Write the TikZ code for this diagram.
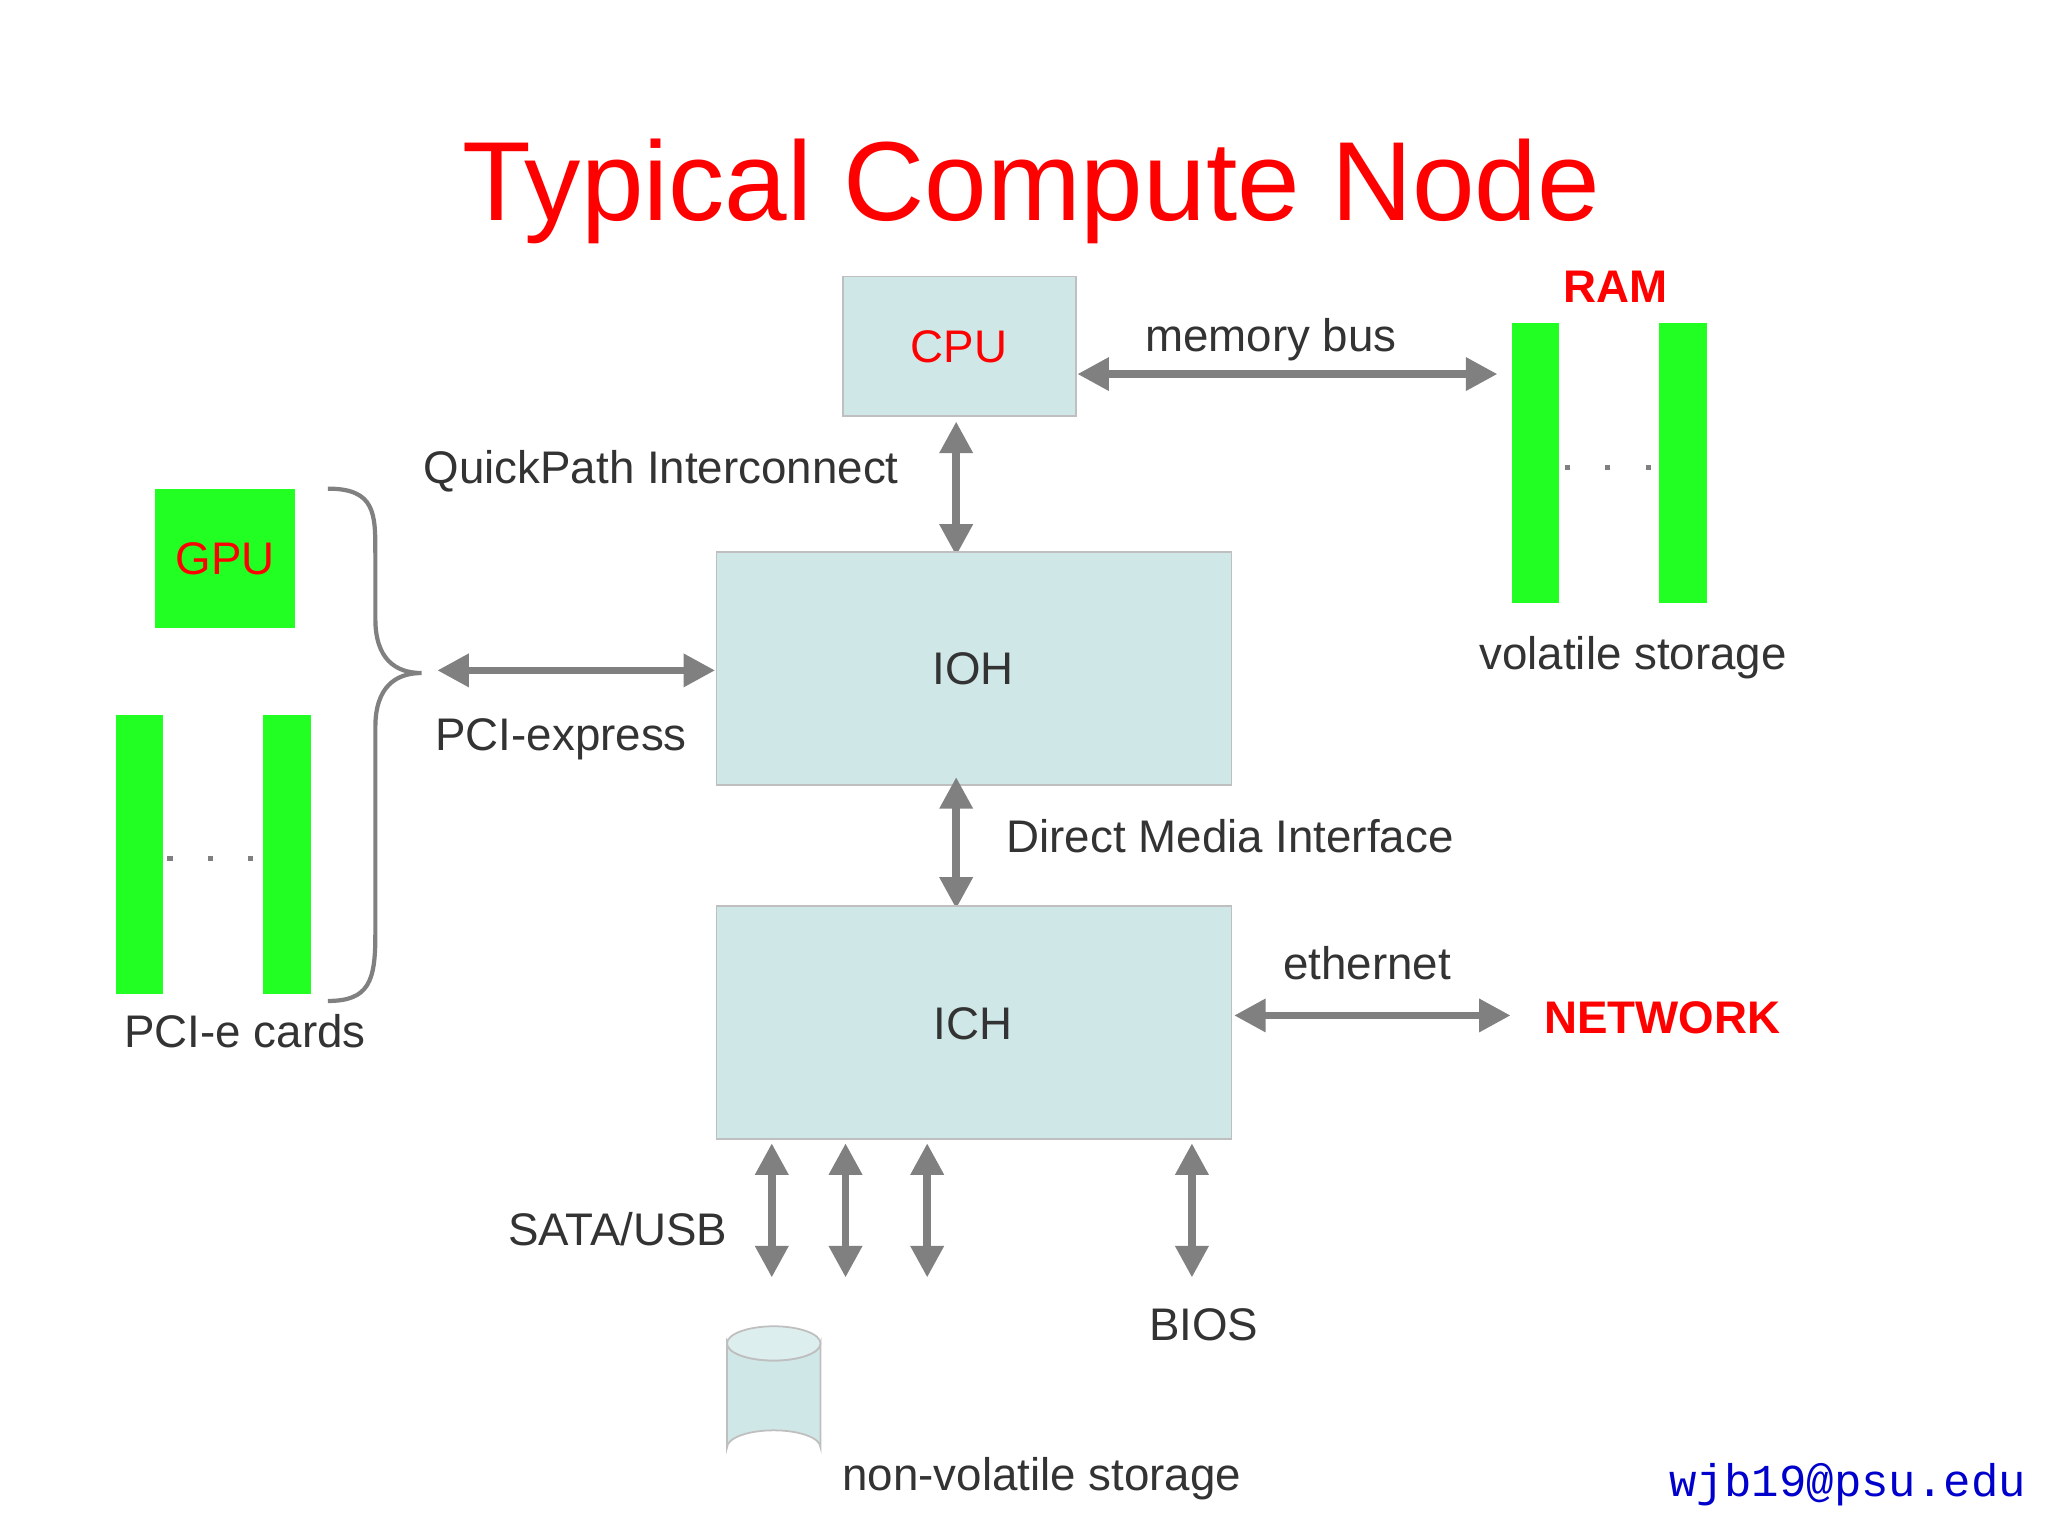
\documentclass[tikz,border=0pt]{standalone}
\usepackage{fontspec}
\setmainfont{Liberation Sans}
\newfontfamily\monof{Liberation Mono}
\usetikzlibrary{arrows.meta,shapes.geometric}
\definecolor{boxfill}{HTML}{CFE7E7}
\definecolor{green1}{HTML}{22FF22}
\definecolor{txt}{HTML}{333333}
\definecolor{arr}{HTML}{808080}
\begin{document}
\begin{tikzpicture}[x=0.01317cm,y=-0.01317cm,
  box/.style={draw=black!25,fill=boxfill,line width=0.5pt,inner sep=0},
  bar/.style={fill=green1,draw=none,inner sep=0},
  lbl/.style={text=txt,font=\fontsize{13}{15}\selectfont,inner sep=0},
  red/.style={text=red},
  dbl/.style={draw=arr,line width=2.2pt,{Triangle[length=9pt,width=9pt]}-{Triangle[length=9pt,width=9pt]}},
  dots/.style={draw=arr,line width=1.5pt,dash pattern=on 1.5pt off 10pt}]
\useasboundingbox (0,0) rectangle (1555,1166);
\fill[white] (0,0) rectangle (1555,1166);
\node[text=red,font=\fontsize{32}{36}\selectfont,inner sep=0] (title) at (783,145) {Typical Compute Node};
% CPU
\path[box] (640,210) rectangle (817,316);
\node[lbl,red] (cpu) at (728,263) {CPU};
\coordinate (cpuR) at (818,284);
\coordinate (ramL) at (1137,284);
\draw[dbl] (cpuR) -- (ramL);
\node[lbl] (mb) at (965,258) {memory bus};
% RAM
\node[text=red,font=\bfseries\fontsize{13}{15}\selectfont,inner sep=0] (ram) at (1227,218) {RAM};
\path[bar] (1148,245) rectangle (1184,458);
\path[bar] (1260,245) rectangle (1296,458);
\coordinate (rd1) at (1188,355); \coordinate (rd2) at (1258,355);
\draw[dots] (rd1) -- (rd2);
\node[lbl] (vs) at (1240,499) {volatile storage};
% QPI
\coordinate (q1) at (726,320); \coordinate (q2) at (726,422);
\draw[dbl] (q1) -- (q2);
\node[lbl] (qpi) at (502,358) {QuickPath Interconnect};
% IOH
\path[box] (544,419) rectangle (935,596);
\node[lbl] (ioh) at (739,508) {IOH};
% GPU
\path[bar] (118,371) rectangle (224,477);
\node[lbl,red] (gpu) at (171,424) {GPU};
\path[bar] (88,543) rectangle (124,755);
\path[bar] (200,543) rectangle (236,755);
\coordinate (pd1) at (127,652); \coordinate (pd2) at (197,652);
\draw[dots] (pd1) -- (pd2);
\node[lbl] (pcic) at (186,783) {PCI-e cards};
% brace
\draw[arr,line width=1.2pt] (249,371) .. controls (285,371) and (285,390) .. (285,420)
  -- (285,470) .. controls (285,500) and (300,511) .. (320,511)
  .. controls (300,511) and (285,522) .. (285,552) -- (285,710)
  .. controls (285,745) and (280,760) .. (249,760);
\coordinate (pe1) at (332,509); \coordinate (pe2) at (543,509);
\draw[dbl] (pe1) -- (pe2);
\node[lbl] (pcie) at (426,561) {PCI-express};
% DMI
\coordinate (d1) at (726,590); \coordinate (d2) at (726,690);
\draw[dbl] (d1) -- (d2);
\node[lbl] (dmi) at (934,635) {Direct Media Interface};
% ICH
\path[box] (544,688) rectangle (935,865);
\node[lbl] (ich) at (739,777) {ICH};
\coordinate (e1) at (937,771); \coordinate (e2) at (1147,771);
\draw[dbl] (e1) -- (e2);
\node[lbl] (eth) at (1038,731) {ethernet};
\node[text=red,font=\bfseries\fontsize{13}{15}\selectfont,inner sep=0] (net) at (1262,773) {NETWORK};
% SATA
\foreach \x/\n in {586/a,642/b,704/c,905/d}{
  \coordinate (s\n1) at (\x,868); \coordinate (s\n2) at (\x,970);
  \draw[dbl] (s\n1) -- (s\n2);}
\node[lbl] (sata) at (469,933) {SATA/USB};
\node[lbl] (bios) at (914,1006) {BIOS};
% cylinder
\path[box] (552,1020) -- (552,1099) arc[x radius=35.5,y radius=13,start angle=180,end angle=360] -- (623,1020) arc[x radius=35.5,y radius=13,start angle=0,end angle=180] -- cycle;
\path[box,fill=boxfill!70!white] (587.5,1020) ellipse[x radius=35.5,y radius=13];
\node[lbl] (nvs) at (791,1123) {non-volatile storage};
\node[text=blue!80!black,font=\monof\fontsize{13}{15}\selectfont,inner sep=0] (mail) at (1403,1127) {wjb19@psu.edu};
\end{tikzpicture}
\end{document}
